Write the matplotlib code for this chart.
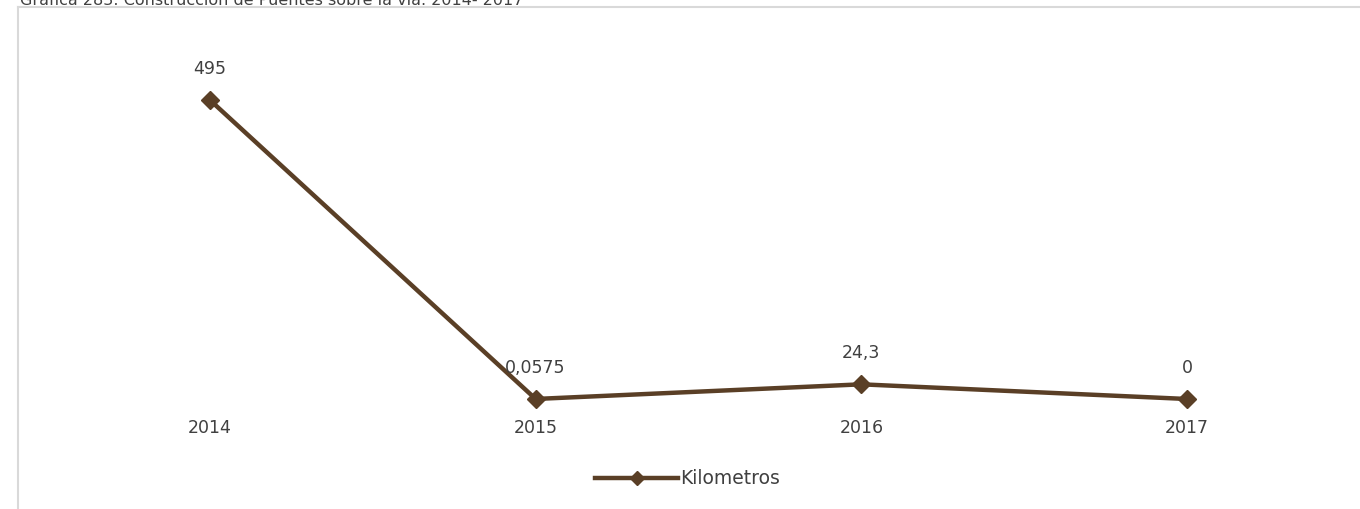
import matplotlib
matplotlib.use("Agg")
import matplotlib.pyplot as plt
from matplotlib.lines import Line2D

years = ["2014", "2015", "2016", "2017"]
kilometros = [495, 0.0575, 24.3, 0]
labels = ["495", "0,0575", "24,3", "0"]
series_name = "Kilometros"
title = "Gráfica 283: Construcción de Puentes sobre la vía. 2014- 2017"

plt.rcParams['font.family'] = ['DejaVu Sans']
W, H = 1360, 509
fig = plt.figure(figsize=(W / 100, H / 100), dpi=100)

line_color = "#5A3F26"
text_color = "#404040"

# frame lines
fig.add_artist(Line2D([18 / W, 1.0], [1 - 7 / H, 1 - 7 / H], transform=fig.transFigure, color="#d9d9d9", lw=1.5))
fig.add_artist(Line2D([18 / W, 18 / W], [1 - 7 / H, 0], transform=fig.transFigure, color="#d9d9d9", lw=1.5))

fig.text(20 / W, 1 - 5 / H, title, fontsize=11.5, color=text_color, va='baseline', ha='left')

# axes: x -0.5..3.5 maps to px 47..1350; y 0 at px 399, ylim 0..600
ymax = 600
px_per_unit = (399 - 100) / 495
top_px = 399 - ymax * px_per_unit
ax = fig.add_axes([47 / W, 1 - 399 / H, (1350 - 47) / W, (399 - top_px) / H])
ax.set_xlim(-0.5, 3.5)
ax.set_ylim(0, ymax)
ax.axis('off')

x = list(range(len(years)))
ax.plot(x, kilometros, color=line_color, lw=3.2, marker='D', markersize=9, clip_on=False,
        solid_joinstyle='miter')

for xi, yi, lab in zip(x, kilometros, labels):
    ax.annotate(lab, (xi, yi), xytext=(0, 22.5), textcoords='offset points', ha='center', va='center',
                fontsize=12.5, color=text_color)
    ax.annotate(years[xi], (xi, 0), xytext=(0, -21), textcoords='offset points', ha='center', va='center',
                fontsize=12.5, color=text_color)

# legend
lx0, lx1, ly = 595, 678, 478
fig.add_artist(Line2D([lx0 / W, lx1 / W], [1 - ly / H] * 2, transform=fig.transFigure, color=line_color, lw=3.2))
fig.add_artist(Line2D([(lx0 + lx1) / 2 / W], [1 - ly / H], transform=fig.transFigure, color=line_color,
                      marker='D', markersize=7, lw=0))
fig.text(680 / W, 1 - ly / H, series_name, fontsize=13.5, color=text_color, va='center', ha='left')

fig.savefig("out.png", dpi=100)
